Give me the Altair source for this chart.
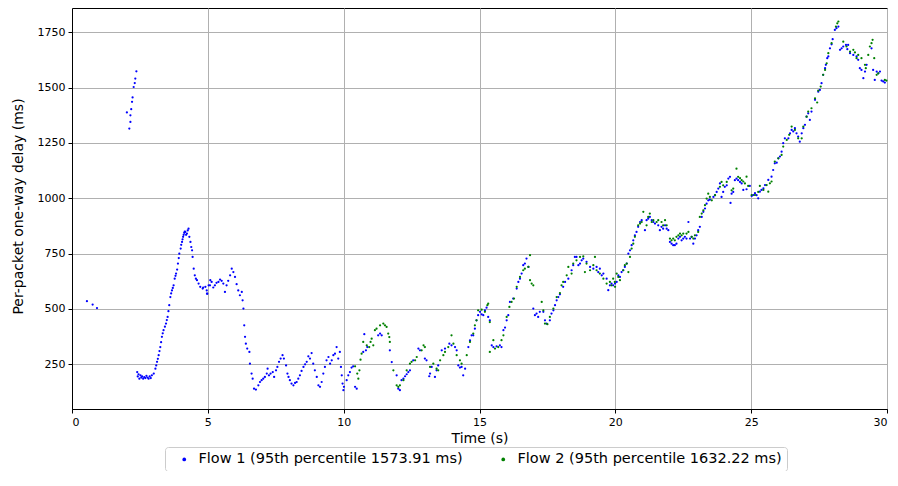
import altair as alt
import pandas as pd

# Flow 1 (blue) samples: time (s), delay (ms)
t1 = [0.55, 0.76, 0.92,
      2.02, 2.11, 2.15, 2.15, 2.18, 2.21, 2.23, 2.27, 2.31, 2.33, 2.37,
      2.40, 2.42, 2.45, 2.48, 2.52, 2.55, 2.58, 2.62, 2.66, 2.70, 2.74, 2.78, 2.82, 2.86, 2.90, 2.94,
      3.01, 3.07, 3.10, 3.13, 3.16, 3.19, 3.22, 3.25, 3.28, 3.31, 3.34, 3.37, 3.42, 3.46, 3.49, 3.52,
      3.55, 3.58, 3.62, 3.65, 3.68, 3.71, 3.74, 3.78, 3.81, 3.83, 3.87, 3.90, 3.93, 3.95, 4.00, 4.02,
      4.05, 4.07, 4.09, 4.11, 4.13, 4.15, 4.17, 4.20, 4.23, 4.26, 4.29, 4.32, 4.36, 4.39, 4.42, 4.44,
      4.48, 4.52, 4.56, 4.60, 4.66, 4.72, 4.81, 4.83, 4.91, 4.96, 4.97, 4.98, 5.03, 5.08, 5.09, 5.14,
      5.20, 5.26, 5.32, 5.39, 5.45, 5.51, 5.57, 5.63, 5.69, 5.75, 5.82, 5.88, 5.94, 6.00, 6.06, 6.12,
      6.18, 6.25, 6.28, 6.31, 6.34, 6.37, 6.40, 6.45, 6.53, 6.55, 6.61, 6.65, 6.70, 6.77, 6.86, 6.92,
      6.98, 7.04, 7.10, 7.17, 7.20, 7.25, 7.31, 7.39, 7.44, 7.51, 7.56, 7.62, 7.68, 7.75, 7.80, 7.88,
      7.93, 7.97, 8.02, 8.08, 8.15, 8.21, 8.27, 8.33, 8.39, 8.45, 8.52, 8.58, 8.64, 8.70, 8.76, 8.82,
      8.88, 8.94, 9.01, 9.07, 9.13, 9.19, 9.25, 9.31, 9.37, 9.44, 9.50, 9.56, 9.62, 9.68, 9.74, 9.80,
      9.86, 9.90, 9.93, 9.96, 9.99, 10.01, 10.11, 10.17, 10.23, 10.29, 10.35, 10.42, 10.48, 10.72,
      10.76, 10.82, 10.87, 11.27, 11.34, 11.40, 11.70, 11.77, 11.95, 12.01, 12.07, 12.13, 12.20,
      12.26, 12.32, 12.38, 12.44, 12.56, 12.75, 12.81, 12.99, 13.05, 13.15, 13.18, 13.24, 13.36,
      13.42, 13.48, 13.61, 13.73, 13.89, 13.97, 14.10, 14.16, 14.22, 14.28, 14.34, 14.40, 14.47,
      14.59, 14.65, 14.71, 14.77, 14.83, 14.89, 14.95, 15.02, 15.08, 15.14, 15.20, 15.26, 15.32,
      15.38, 15.45, 15.51, 15.63, 15.75, 15.81, 15.88, 15.94, 16.00, 16.06, 16.12, 16.24, 16.37,
      16.43, 16.49, 16.55, 16.61, 16.67, 16.73, 16.80, 16.98, 17.04, 17.10, 17.16, 17.22, 17.35,
      17.41, 17.47, 17.59, 17.65, 17.72, 17.78, 17.84, 17.90, 17.96, 18.08, 18.15, 18.27, 18.39,
      18.45, 18.51, 18.57, 18.64, 18.70, 18.76, 18.82, 18.94, 19.07, 19.19, 19.31, 19.37, 19.43,
      19.50, 19.56, 19.68, 19.74, 19.80, 19.86, 19.92, 19.99, 20.05, 20.11, 20.17, 20.23, 20.29,
      20.35, 20.42, 20.48, 20.54, 20.60, 20.66, 20.72, 20.78, 20.84, 20.91, 20.97, 21.09, 21.15,
      21.21, 21.27, 21.34, 21.40, 21.46, 21.58, 21.64, 21.70, 21.76, 21.83, 21.89, 21.95, 22.01,
      22.07, 22.13, 22.19, 22.25, 22.32, 22.38, 22.44, 22.50, 22.56, 22.62, 22.69, 22.75, 22.81,
      22.87, 22.93, 22.99, 23.05, 23.11, 23.18, 23.24, 23.30, 23.36, 23.42, 23.48, 23.61, 23.67,
      23.73, 23.79, 23.85, 23.91, 23.97, 24.03, 24.10, 24.16, 24.22, 24.24, 24.28, 24.34, 24.40,
      24.46, 24.52, 24.59, 24.65, 24.71, 24.83, 24.95, 25.02, 25.08, 25.14, 25.20, 25.26, 25.32,
      25.38, 25.45, 25.51, 25.63, 25.75, 25.81, 25.87, 25.94, 26.00, 26.06, 26.12, 26.18, 26.24,
      26.37, 26.43, 26.49, 26.55, 26.61, 26.67, 26.73, 26.79, 26.86, 26.92, 26.98, 27.04, 27.10,
      27.16, 27.22, 27.35, 27.47, 27.53, 27.59, 27.65, 27.72, 27.75, 27.80, 27.84, 27.90, 27.96,
      28.00, 28.08, 28.14, 28.21, 28.27, 28.33, 28.39, 28.49, 28.54, 28.57, 28.64, 28.76, 28.88,
      28.94, 29.00, 29.06, 29.13, 29.19, 29.25, 29.43, 29.49, 29.55, 29.62, 29.68, 29.74, 29.80,
      29.86, 29.92]
d1 = [535, 520, 504,
      1388, 1315, 1345, 1375, 1403, 1436, 1456, 1503, 1521, 1541, 1574,
      215, 195, 205, 185, 200, 190, 195, 185, 192, 188, 198, 190, 185, 195, 188, 200,
      208, 230, 245, 261, 275, 291, 310, 328, 350, 374, 390, 404, 420, 434, 450, 464,
      490, 517, 554, 570, 584, 595, 607, 637, 650, 660, 678, 705, 730, 750, 773, 790,
      803, 815, 826, 835, 844, 850, 848, 835, 841, 855, 863, 826, 803, 780, 765, 735,
      682, 652, 637, 630, 615, 600, 592, 597, 600, 584, 569, 569, 607, 607, 630, 622,
      597, 607, 618, 622, 633, 627, 615, 577, 607, 627, 652, 682, 667, 645, 612, 584,
      562, 577, 539, 502, 426, 374, 343, 321, 306, 253, 208, 185, 140, 136, 155, 170,
      178, 185, 193, 208, 230, 200, 208, 215, 193, 223, 238, 261, 276, 291, 276, 245,
      208, 193, 178, 163, 155, 166, 170, 185, 200, 220, 238, 250, 261, 286, 276, 301,
      253, 223, 193, 155, 148, 170, 208, 238, 268, 283, 253, 268, 291, 298, 328, 276,
      306, 238, 200, 163, 133, 148, 178, 200, 215, 235, 241, 148, 140, 306,
      386, 313, 328, 381, 389, 381, 313, 260, 200, 140, 133, 178, 185,
      196, 205, 215, 223, 268, 321, 313, 276, 268, 196, 208, 238, 193,
      223, 245, 313, 321, 343, 336, 328, 313, 245, 235, 238, 200, 230,
      328, 358, 381, 381, 411, 449, 472, 487, 476, 472, 494, 506, 464,
      449, 336, 328, 331, 336, 328, 404, 416, 449, 472, 532, 547, 592,
      622, 637, 660, 698, 705, 728, 690, 502, 472, 479, 464, 487, 487,
      449, 434, 449, 479, 494, 517, 539, 554, 566, 600, 622, 637, 675,
      698, 735, 735, 698, 705, 720, 728, 713, 690, 682, 690, 667, 682,
      652, 660, 637, 585, 607, 615, 607, 615, 622, 652, 645, 667, 675,
      690, 705, 750, 765, 788, 810, 833, 848, 871, 893, 901, 856, 901,
      908, 916, 901, 893, 886, 878, 856, 871, 863, 878, 863, 856, 803,
      795, 788, 788, 795, 818, 826, 810, 818, 826, 818, 893, 818, 826,
      795, 818, 833, 856, 871, 916, 939, 954, 976, 991, 994, 1006, 1014,
      1029, 1044, 1067, 1006, 1029, 1052, 1059, 1089, 1097, 979, 1021, 1029, 1082,
      1089, 1082, 1074, 1067, 1038, 1041, 1056, 1011, 1015, 1023, 1014, 1000, 1030,
      1038, 1045, 1060, 1083, 1098, 1128, 1158, 1161, 1181, 1189, 1211, 1249, 1271,
      1271, 1294, 1309, 1302, 1317, 1294, 1279, 1256, 1294, 1317, 1332, 1369, 1384,
      1354, 1392, 1445, 1482, 1490, 1520, 1558, 1588, 1603, 1633, 1641, 1678, 1696,
      1719, 1761, 1769, 1776, 1671, 1678, 1686, 1693, 1674, 1693, 1656, 1648, 1641,
      1626, 1588, 1580, 1543, 1573, 1603, 1678, 1580, 1535, 1573, 1565, 1573, 1532,
      1528, 1523]

# Flow 2 (green) samples
t2 = [10.42, 10.50, 10.54, 10.58, 10.62, 10.66, 10.72, 10.85, 10.94, 10.99, 11.03, 11.09, 11.15,
      11.21, 11.34, 11.46, 11.52, 11.58, 11.64, 11.68, 11.70, 11.83, 11.95, 12.01, 12.07, 12.20,
      12.32, 12.44, 12.50, 12.63, 12.69, 12.87, 12.94, 12.99, 13.18, 13.30, 13.42, 13.48, 13.55,
      13.67, 13.73, 13.85, 13.97, 14.04, 14.16, 14.28, 14.34, 14.53, 14.65, 14.77, 14.83, 14.89,
      14.95, 15.08, 15.20, 15.29, 15.32, 15.38, 15.38, 15.51, 15.57, 15.69, 15.81, 15.88, 16.00,
      16.10, 16.18, 16.27, 16.37, 16.49, 16.61, 16.67, 16.80, 16.86, 16.86, 16.92, 16.98, 17.29,
      17.35, 17.41, 17.50, 17.59, 17.72, 17.84, 17.96, 18.02, 18.08, 18.21, 18.27, 18.39, 18.45,
      18.57, 18.70, 18.82, 18.88, 18.94, 19.07, 19.19, 19.25, 19.31, 19.43, 19.56, 19.68, 19.80,
      19.86, 19.92, 19.98, 19.99, 20.05, 20.11, 20.17, 20.29, 20.35, 20.42, 20.48, 20.54, 20.60,
      20.66, 20.72, 20.84, 20.91, 20.97, 21.03, 21.15, 21.21, 21.27, 21.34, 21.40, 21.52, 21.58,
      21.70, 21.76, 21.83, 21.89, 22.01, 22.07, 22.13, 22.19, 22.25, 22.32, 22.38, 22.44, 22.50,
      22.62, 22.69, 22.81, 22.87, 22.93, 23.05, 23.11, 23.18, 23.24, 23.30, 23.36, 23.42, 23.48,
      23.55, 23.67, 23.85, 23.91, 23.97, 24.10, 24.28, 24.34, 24.46, 24.52, 24.59, 24.65, 24.71,
      24.77, 24.83, 24.89, 25.02, 25.14, 25.26, 25.32, 25.45, 25.57, 25.63, 25.69, 25.75, 25.87,
      26.00, 26.12, 26.18, 26.31, 26.40, 26.49, 26.61, 26.73, 26.86, 26.92, 27.04, 27.10, 27.22,
      27.35, 27.43, 27.47, 27.56, 27.65, 27.72, 27.78, 27.84, 27.96, 28.12, 28.17, 28.21, 28.39,
      28.51, 28.64, 28.76, 28.82, 28.88, 28.94, 29.06, 29.19, 29.22, 29.31, 29.37, 29.43, 29.47,
      29.53, 29.62, 29.68, 29.92, 29.98]
d2 = [241, 208, 185, 223, 271, 298, 351, 336, 328, 351, 366, 336, 404,
      411, 426, 434, 426, 419, 389, 373, 351, 223, 155, 148, 155, 178,
      223, 253, 261, 268, 283, 313, 336, 328, 238, 253, 230, 223, 268,
      291, 306, 328, 381, 343, 291, 268, 253, 291, 351, 389, 426, 449,
      494, 497, 487, 517, 524, 441, 306, 359, 321, 328, 359, 381, 464,
      509, 532, 547, 600, 645, 675, 682, 690, 743, 630, 615, 607, 532,
      494, 434, 431, 464, 502, 554, 572, 607, 622, 652, 690, 660, 705,
      720, 735, 738, 667, 705, 675, 698, 735, 675, 660, 637, 615, 622,
      607, 637, 622, 600, 660, 645, 630, 675, 698, 705, 667, 735, 773,
      795, 826, 878, 886, 893, 939, 878, 916, 931, 893, 901, 893, 901,
      893, 878, 901, 878, 818, 810, 818, 810, 826, 833, 841, 833, 841,
      841, 848, 826, 818, 833, 848, 916, 931, 946, 969, 999, 1021, 1006,
      991, 1014, 1052, 1074, 1059, 1074, 1036, 1044, 1134, 1097, 1091, 1082, 1076,
      1067, 1098, 1056, 1015, 1015, 1029, 1056, 1038, 1060, 1030, 1068, 1076, 1166,
      1181, 1196, 1234, 1264, 1287, 1324, 1309, 1271, 1271, 1324, 1369, 1392, 1407,
      1452, 1433, 1487, 1505, 1558, 1580, 1610, 1656, 1701, 1776, 1791, 1799, 1708,
      1686, 1663, 1671, 1659, 1633, 1648, 1633, 1603, 1588, 1648, 1686, 1701, 1716,
      1633, 1558, 1565, 1535, 1532]

series_names = ["Flow 1 (95th percentile 1573.91 ms)", "Flow 2 (95th percentile 1632.22 ms)"]
series_colors = ["#0000ff", "#008000"]
x_ticks = [0, 5, 10, 15, 20, 25, 30]
y_ticks = [250, 500, 750, 1000, 1250, 1500, 1750]

df = pd.concat([
    pd.DataFrame({"t": t1, "d": d1, "flow": series_names[0]}),
    pd.DataFrame({"t": t2, "d": d2, "flow": series_names[1]}),
], ignore_index=True)

FONT = "DejaVu Sans"

chart = alt.Chart(df).mark_circle(size=5, opacity=1).encode(
    x=alt.X("t:Q", title="Time (s)",
            scale=alt.Scale(domain=[0, 30], nice=False, zero=False),
            axis=alt.Axis(values=x_ticks, format="d", titlePadding=4)),
    y=alt.Y("d:Q", title="Per-packet one-way delay (ms)",
            scale=alt.Scale(domain=[48, 1860], nice=False, zero=False),
            axis=alt.Axis(values=y_ticks, format="d", titleAngle=270,
                          titleX=-54, titleY=198, titleAlign="center",
                          titleBaseline="middle")),
    color=alt.Color("flow:N",
                    scale=alt.Scale(domain=series_names, range=series_colors),
                    legend=alt.Legend(orient="none", legendX=93, legendY=439,
                                      direction="horizontal", title=None,
                                      strokeColor="#cccccc", fillColor="white",
                                      cornerRadius=3, padding=5,
                                      symbolType="circle", symbolSize=14,
                                      symbolOffset=7, labelOffset=7,
                                      columnPadding=26, labelLimit=0,
                                      labelFontSize=14.5, labelFont=FONT,
                                      labelColor="black", symbolStrokeWidth=0)),
).properties(
    width=815, height=401,
    padding={"left": 64, "top": 0, "right": 3, "bottom": 62},
    autosize=alt.AutoSizeParams(type="none"),
).configure_view(
    stroke="black", strokeWidth=1
).configure_axis(
    grid=True, gridColor="#b0b0b0", gridWidth=1,
    domainColor="black", domainWidth=1,
    tickColor="black", tickSize=4, tickWidth=1,
    labelFont=FONT, labelFontSize=11, labelColor="black", labelPadding=3,
    titleFont=FONT, titleFontSize=14, titleFontWeight="normal", titleColor="black",
)

chart.save("out.html", embed_options={"renderer": "svg", "actions": False})
